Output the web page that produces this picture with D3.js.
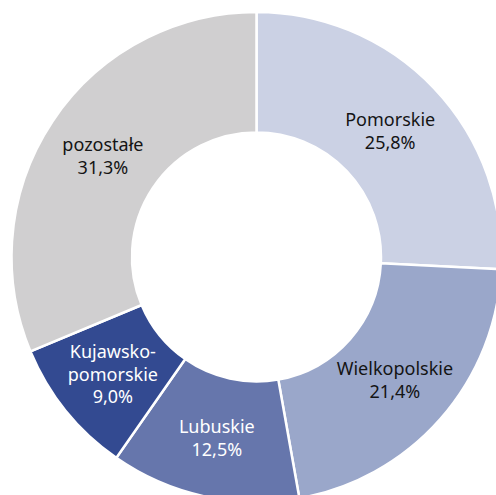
<!DOCTYPE html>
<html lang="pl">
<head>
<meta charset="UTF-8">
<title>Donut</title>
<script src="https://cdnjs.cloudflare.com/ajax/libs/d3/7.8.5/d3.min.js"></script>
<style>
  html, body { margin: 0; padding: 0; background: #fff; overflow: hidden; }
  svg text { font-family: "Noto Sans", sans-serif; font-size: 18px; }
</style>
</head>
<body>
<div id="chart"></div>
<script>
// data: regions, share in percent
var regions = ["Pomorskie", "Wielkopolskie", "Lubuskie", "Kujawsko-pomorskie", "pozostałe"];
var shares = [25.8, 21.4, 12.5, 9.0, 31.3];
// label lines as printed on the chart
var labelLines = [["Pomorskie"], ["Wielkopolskie"], ["Lubuskie"], ["Kujawsko-", "pomorskie"], ["pozostałe"]];
var colors = ["#cbd1e4", "#9aa7ca", "#6676ac", "#334a91", "#d0cfd0"];
var textColors = ["#141414", "#141414", "#ffffff", "#ffffff", "#141414"];

var w = 496, h = 495;
var cx = 256.5, cy = 257;
var outerR = 245, innerR = 124.5;

var svg = d3.select("#chart").append("svg")
    .attr("width", w)
    .attr("height", h);

var g = svg.append("g").attr("transform", "translate(" + cx + "," + cy + ")");

var data = regions.map(function(r, i) {
    return { name: r, value: shares[i], lines: labelLines[i], color: colors[i], text: textColors[i] };
});

var pie = d3.pie().value(function(d) { return d.value; }).sort(null);
var arc = d3.arc().innerRadius(innerR).outerRadius(outerR);
var labelArc = d3.arc().innerRadius(184.5).outerRadius(184.5);

var arcs = pie(data);

g.selectAll("path")
    .data(arcs)
    .enter().append("path")
    .attr("d", arc)
    .attr("fill", function(d) { return d.data.color; })
    .attr("stroke", "#fff")
    .attr("stroke-width", 2.5);

var lineH = 23;
var labels = g.selectAll("text.lbl")
    .data(arcs)
    .enter().append("text")
    .attr("class", "lbl")
    .attr("text-anchor", "middle")
    .attr("fill", function(d) { return d.data.text; })
    .attr("transform", function(d) {
        var c = labelArc.centroid(d);
        return "translate(" + c[0] + "," + c[1] + ")";
    });

labels.each(function(d) {
    var t = d3.select(this);
    var lines = d.data.lines.concat([d3.format(".1f")(d.data.value).replace(".", ",") + "%"]);
    var y0 = -(lines.length - 1) * lineH / 2 + 7.7;
    lines.forEach(function(l, i) {
        t.append("tspan").attr("x", 0).attr("y", y0 + i * lineH).text(l);
    });
});
</script>
</body>
</html>
